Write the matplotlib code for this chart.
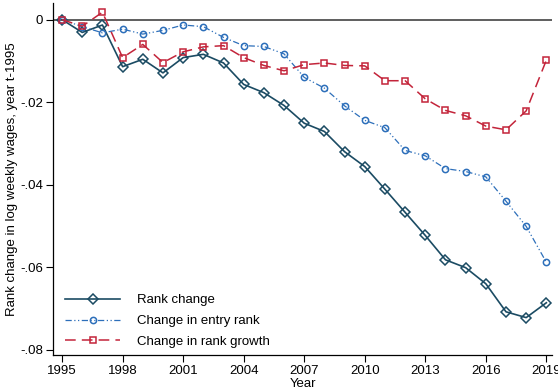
import matplotlib
matplotlib.use("Agg")
import matplotlib.pyplot as plt

plt.rcParams['font.family'] = ['Liberation Sans', 'DejaVu Sans']

years = list(range(1995, 2020))

rank_change = [0.0, -0.0031, -0.0013, -0.0114, -0.0096, -0.0129, -0.0092, -0.0084,
               -0.0105, -0.0157, -0.0177, -0.0208, -0.0251, -0.0271, -0.0320, -0.0356,
               -0.0411, -0.0467, -0.0523, -0.0582, -0.0601, -0.0640, -0.0708, -0.0722,
               -0.0686]

entry_rank = [0.0, -0.0017, -0.0032, -0.0023, -0.0035, -0.0026, -0.0013, -0.0017,
              -0.0043, -0.0063, -0.0065, -0.0083, -0.0140, -0.0166, -0.0209, -0.0244,
              -0.0262, -0.0317, -0.0330, -0.0361, -0.0368, -0.0381, -0.0440, -0.0501,
              -0.0588]

rank_growth = [0.0, -0.0016, 0.0018, -0.0092, -0.0060, -0.0104, -0.0078, -0.0066,
               -0.0063, -0.0092, -0.0111, -0.0124, -0.0109, -0.0105, -0.0111, -0.0112,
               -0.0148, -0.0148, -0.0192, -0.0220, -0.0233, -0.0258, -0.0267, -0.0221,
               -0.0098]

x_ticks = list(range(1995, 2020, 3))
y_ticks = [0, -0.02, -0.04, -0.06, -0.08]
y_tick_labels = ['0', '-.02', '-.04', '-.06', '-.08']

c_rank = '#1b4b63'
c_entry = '#2d6fba'
c_growth = '#c3243a'

fig = plt.figure(figsize=(5.58, 3.92), dpi=100)
ax = fig.add_axes([0.095, 0.094, 0.895, 0.898])

ax.axhline(0, color='#333333', lw=1.1, zorder=1)

ax.plot(years, rank_change, color=c_rank, lw=1.2, marker='D', markersize=5,
        markerfacecolor='none', markeredgecolor=c_rank, markeredgewidth=1.1,
        label='Rank change', zorder=3)
ax.plot(years, entry_rank, color=c_entry, lw=0.9, dashes=(5, 2, 1, 2, 1, 2),
        marker='o', markersize=4.5, markerfacecolor='none',
        markeredgecolor=c_entry, markeredgewidth=1.1,
        label='Change in entry rank', zorder=3)
ax.plot(years, rank_growth, color=c_growth, lw=1.1, dashes=(7, 4),
        marker='s', markersize=4.5, markerfacecolor='none',
        markeredgecolor=c_growth, markeredgewidth=1.1,
        label='Change in rank growth', zorder=3)

ax.set_xlim(1994.55, 2019.3)
ax.set_ylim(-0.0813, 0.0040)

ax.set_xticks(x_ticks)
ax.set_xticklabels([str(y) for y in x_ticks], fontsize=9.5)
ax.set_yticks(y_ticks)
ax.set_yticklabels(y_tick_labels, fontsize=9.5)
ax.tick_params(axis='both', direction='out', length=5, width=0.8, colors='black', pad=2)

ax.spines['top'].set_visible(False)
ax.spines['right'].set_visible(False)
ax.spines['left'].set_linewidth(0.9)
ax.spines['bottom'].set_linewidth(0.9)

ax.set_xlabel('Year', fontsize=9.5, labelpad=1)
ax.set_ylabel('Rank change in log weekly wages, year t-1995', fontsize=9.5, labelpad=2)

ax.legend(loc='lower left', bbox_to_anchor=(0.0, -0.013), frameon=False, fontsize=9.5,
          handlelength=4.2, handletextpad=1.3, labelspacing=0.64)

fig.savefig('out.png', dpi=100)
